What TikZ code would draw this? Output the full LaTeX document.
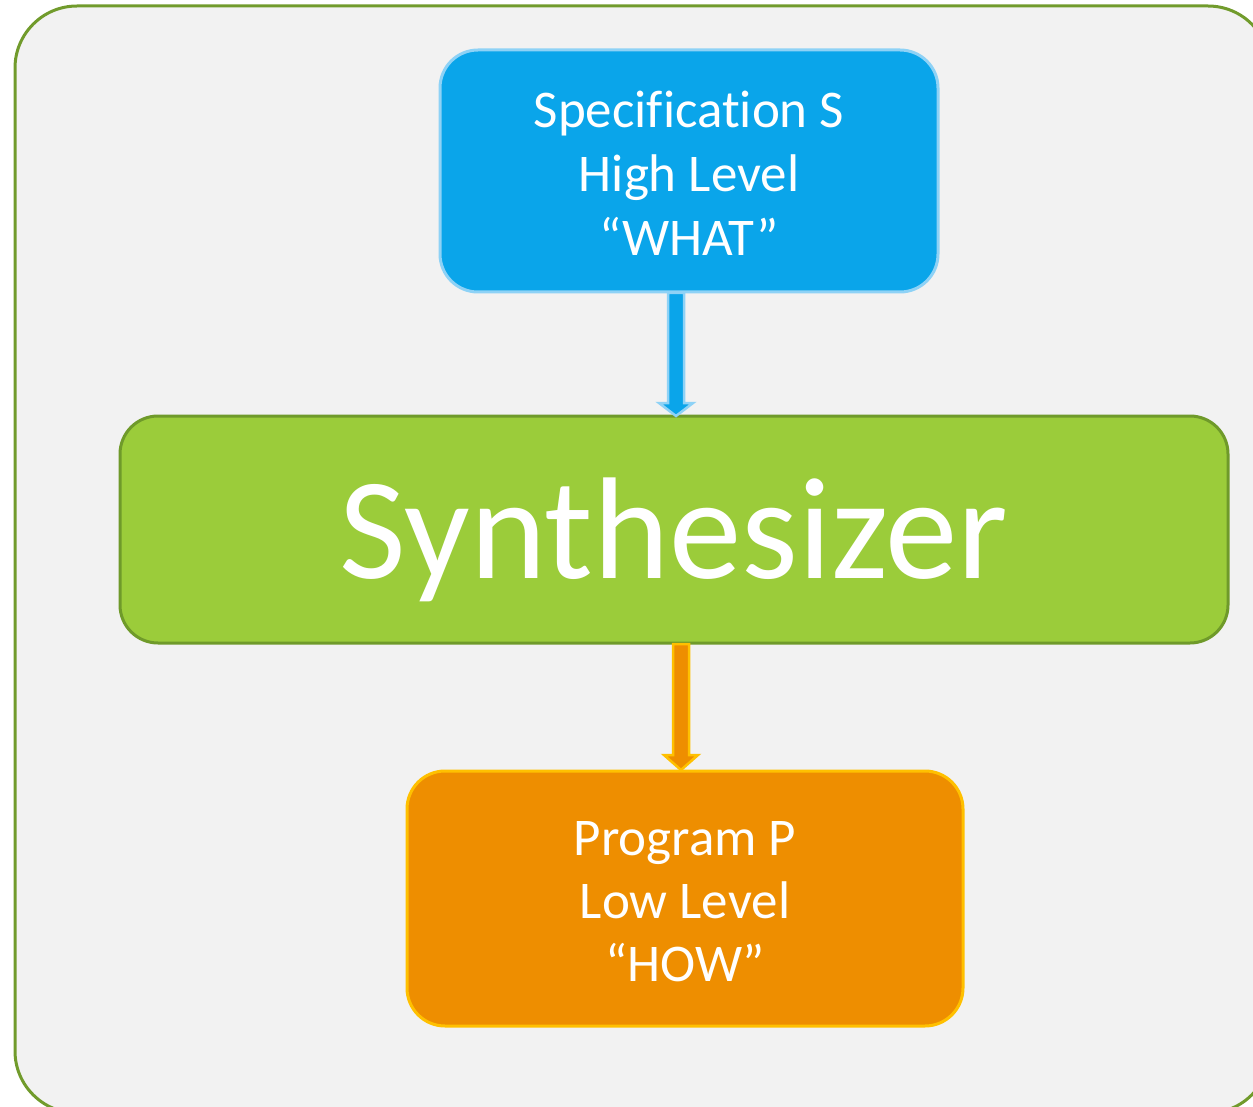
\documentclass[tikz,border=0pt]{standalone}
\usepackage{fontspec}
\setmainfont{Carlito}[Ligatures=NoCommon]
\usetikzlibrary{calc}

\definecolor{pagebg}{RGB}{242,242,242}
\definecolor{frameline}{RGB}{113,155,44}
\definecolor{specfill}{RGB}{10,165,234}
\definecolor{specline}{RGB}{142,210,246}
\definecolor{synthfill}{RGB}{155,204,58}
\definecolor{synthline}{RGB}{111,154,42}
\definecolor{progfill}{RGB}{238,142,0}
\definecolor{progline}{RGB}{255,192,0}

\tikzset{
  box/.style={rounded corners=38pt, line width=3pt, text=white, align=center, inner sep=0pt},
  blockarrow/.style={line width=2.5pt, line join=miter},
}

\begin{document}
\begin{tikzpicture}[x=1pt,y=-1pt]
  \useasboundingbox (0,0) rectangle (1253,1107);
  % outer frame, running past the right and bottom edges
  \draw[fill=pagebg, draw=frameline, line width=3pt, rounded corners=62pt]
    (15,6) rectangle (1270,1113);

  % boxes
  \draw[box, fill=specfill, draw=specline] (440,50) rectangle (938,292);
  \node[text=white, align=center, font=\fontsize{53}{64}\selectfont] (spec)
    at (689,173) {Specification S\\High Level\\“WHAT”};
  \coordinate (specS) at (676,293);

  \draw[box, fill=synthfill, draw=synthline] (120,416) rectangle (1228,643);
  \node[text=white, font=\fontsize{145}{160}\selectfont] (synth) at (674,540) {Synthesizer};
  \coordinate (synthN) at (676,416);
  \coordinate (synthS) at (681,644);

  \draw[box, fill=progfill, draw=progline] (407,771) rectangle (963,1026);
  \node[text=white, align=center, font=\fontsize{53}{63}\selectfont] (prog)
    at (685,902) {Program P\\Low Level\\“HOW”};
  \coordinate (progN) at (681,770);

  % block arrows
  \draw[blockarrow, fill=specfill, draw=specline]
    let \p1=(specS), \p2=(synthN) in
    (\x1-8pt,\y1) -- (\x1-8pt,\y2+13pt) -- (\x1-17pt,\y2+13pt) -- (\x1,\y2)
    -- (\x1+17pt,\y2+13pt) -- (\x1+8pt,\y2+13pt) -- (\x1+8pt,\y1) -- cycle;
  \draw[blockarrow, fill=progfill, draw=progline]
    let \p1=(synthS), \p2=(progN) in
    (\x1-8pt,\y1) -- (\x1-8pt,\y2+15pt) -- (\x1-17pt,\y2+15pt) -- (\x1,\y2)
    -- (\x1+17pt,\y2+15pt) -- (\x1+8pt,\y2+15pt) -- (\x1+8pt,\y1) -- cycle;
\end{tikzpicture}
\end{document}
